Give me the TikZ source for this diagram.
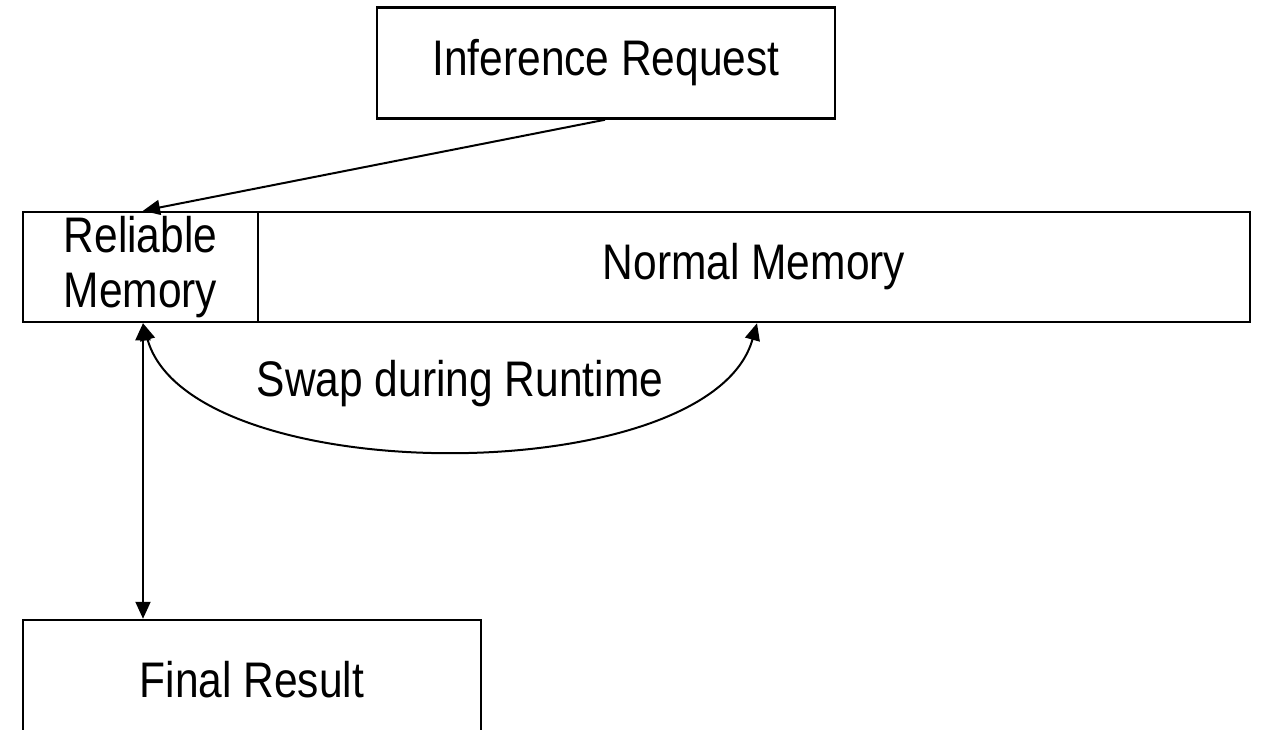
\documentclass[tikz,border=0pt]{standalone}
\usepackage{fontspec}
\setmainfont[FakeStretch=0.85]{Liberation Sans}
\usetikzlibrary{arrows.meta}
\tikzset{
  box/.style={draw=black, line width=2.5pt, inner sep=0pt, align=center,
    font=\fontsize{50}{55}\selectfont},
  link/.style={draw=black, line width=2pt, -{Triangle[length=17pt,width=15pt]}},
  both/.style={link, {Triangle[length=17pt,width=15pt]}-{Triangle[length=17pt,width=15pt]}},
  label/.style={inner sep=0pt, font=\fontsize{50}{55}\selectfont}
}
\begin{document}
\begin{tikzpicture}[x=1pt,y=-1pt]
  \useasboundingbox (0,0) rectangle (1261,730);
  \clip (0,0) rectangle (1261,730);

  % request at the top
  \node[box, minimum width=458pt, minimum height=111pt] (req) at (606,63) {Inference Request};

  % memory bar split into reliable and normal parts
  \node[box, minimum width=235pt, minimum height=110pt] (rel) at (140.5,267) {Reliable\\Memory};
  \node[box, minimum width=992pt, minimum height=110pt] (norm) at (754,267) {Normal Memory};

  % result box, running past the lower edge
  \node[box, minimum width=458pt, minimum height=120pt] (res) at (252,680) {Final Result};

  \coordinate (relbot) at ([xshift=2.5pt]rel.south);
  \coordinate (reltop) at ([xshift=2.5pt]rel.north);
  \coordinate (normbot) at ([xshift=3pt]norm.south);

  \draw[link] ([xshift=-1pt]req.south) -- (reltop);
  \draw[both] (relbot) -- (relbot |- res.north);
  \draw[both] (relbot) .. controls +(47,168) and +(-47,168) .. (normbot);

  \node[label] (swap) at (460,384) {Swap during Runtime};
\end{tikzpicture}
\end{document}
